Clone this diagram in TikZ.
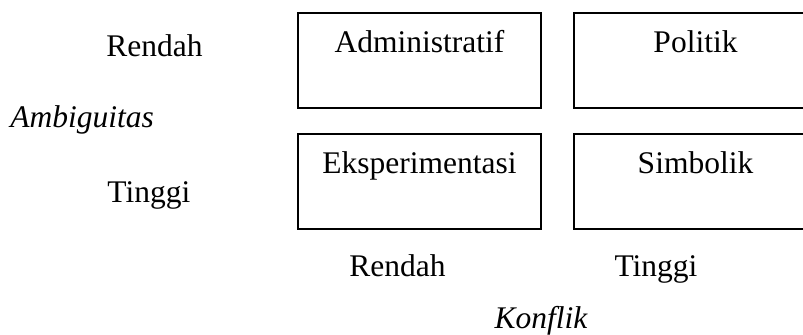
\documentclass[tikz,border=0pt]{standalone}
\usepackage{fontspec}
\setmainfont{Liberation Serif}
\usetikzlibrary{positioning}

\begin{document}
\begin{tikzpicture}[
  x=0.5pt, y=-0.5pt,
  font=\fontsize{15.75}{18}\selectfont,
  quad/.style={draw, line width=1pt, inner sep=0pt, minimum width=121.5pt, text height=20pt, text depth=27.5pt},
  axislbl/.style={inner sep=0pt},
  axisname/.style={inner sep=0pt, font=\fontsize{15.75}{18}\selectfont\itshape}
]
\useasboundingbox (0,0) rectangle (803,335);
\clip (0,0) rectangle (803,335);

% kuadran
\node[quad] (adm) at (419.5,60.5) {Administratif};
\node[quad, right=15.5pt of adm] (pol) {Politik};
\node[quad, below=12pt of adm] (eks) {Eksperimentasi};
\node[quad, right=15.5pt of eks] (sim) {Simbolik};

% sumbu ambiguitas
\node[axislbl, anchor=base west] (amblow) at (106,57) {Rendah};
\node[axislbl, anchor=base west] (amlhigh) at (107,203) {Tinggi};
\node[axisname, anchor=base west] (amb) at (10,128) {Ambiguitas};

% sumbu konflik
\node[axislbl, anchor=base] (konlow) at (397.5,277) {Rendah};
\node[axislbl, anchor=base] (konhigh) at (656,277) {Tinggi};
\node[axisname, anchor=base] (kon) at (541,329) {Konflik};

\end{tikzpicture}
\end{document}
